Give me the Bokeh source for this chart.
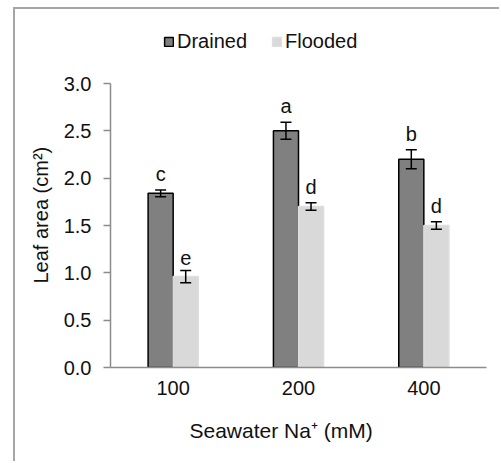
from bokeh.plotting import figure
from bokeh.models import (ColumnDataSource, Whisker, TeeHead, Legend, LegendItem, FactorRange,
                          NumeralTickFormatter, Range1d, Title)
from bokeh.transform import dodge
from bokeh.core.properties import value
from bokeh.embed import file_html
from bokeh.resources import INLINE

categories = ["100", "200", "400"]
drained = [1.84, 2.50, 2.20]
drained_err = [0.035, 0.09, 0.10]
drained_letters = ["c", "a", "b"]
flooded = [0.96, 1.70, 1.50]
flooded_err = [0.065, 0.04, 0.04]
flooded_letters = ["e", "d", "d"]
y_ticks = [0.0, 0.5, 1.0, 1.5, 2.0, 2.5, 3.0]
y_max = 3.0
y_title = "Leaf area (cm²)"
x_title = "Seawater Na⁺ (mM)"

FONT = "Liberation Sans"
FS = "20px"
AXIS_COLOR = "#8c8c8c"

W, H = 486, 454
TOP, BOTTOM, LEFT, RIGHT = 11, 96, 95, 15
AXIS_PX = 284  # pixel height of the 0..3 axis

src_d = ColumnDataSource(dict(
    cat=categories, val=drained,
    lo=[v - e for v, e in zip(drained, drained_err)],
    hi=[v + e for v, e in zip(drained, drained_err)],
    lab=drained_letters))
src_f = ColumnDataSource(dict(
    cat=categories, val=flooded,
    lo=[v - e for v, e in zip(flooded, flooded_err)],
    hi=[v + e for v, e in zip(flooded, flooded_err)],
    lab=flooded_letters))

frame_h = H - TOP - BOTTOM
p = figure(width=W, height=H, x_range=FactorRange(*categories, range_padding=0),
           y_range=Range1d(0, y_max * frame_h / AXIS_PX), output_backend="svg", toolbar_location=None,
           min_border_left=LEFT, min_border_right=RIGHT, min_border_top=TOP, min_border_bottom=BOTTOM)
p.styles = {"margin-left": "13px", "margin-top": "7px",
            "border-left": "2px solid #a6a6a6", "border-top": "2px solid #a6a6a6"}

p.outline_line_color = None
p.xgrid.grid_line_color = None
p.ygrid.grid_line_color = None
p.background_fill_color = "white"
p.border_fill_color = "white"

r_d = p.vbar(x=dodge("cat", -0.1, range=p.x_range), top="val", width=0.2, source=src_d,
             fill_color="#808080", line_color="black", line_width=1.5)
r_f = p.vbar(x=dodge("cat", 0.1, range=p.x_range), top="val", width=0.2, source=src_f,
             fill_color="#d9d9d9", line_color="#dedede", line_width=1.5)

for src, off in ((src_d, -0.1), (src_f, 0.1)):
    w = Whisker(base=dodge("cat", off, range=p.x_range), upper="hi", lower="lo", source=src,
                dimension="height", line_color="black", line_width=1.5, level="annotation",
                upper_head=TeeHead(size=11, line_color="black", line_width=1.5),
                lower_head=TeeHead(size=11, line_color="black", line_width=1.5))
    p.add_layout(w)
    p.text(x=dodge("cat", off, range=p.x_range), y="hi", text="lab", source=src,
           text_align="center", text_baseline="bottom", y_offset=-5,
           text_font=value(FONT), text_font_size=value(FS), text_color="#111111")

legend = Legend(items=[LegendItem(label="Drained", renderers=[r_d]),
                       LegendItem(label="Flooded", renderers=[r_f])],
                orientation="horizontal", location=(53, 314),
                glyph_width=11, glyph_height=11, label_standoff=3, spacing=24,
                padding=0, margin=0, border_line_color=None, background_fill_alpha=0,
                label_text_font=FONT, label_text_font_size=FS, label_text_color="#111111")
p.add_layout(legend, "center")

p.yaxis.ticker = y_ticks
p.yaxis.bounds = (0, y_max)
p.yaxis.formatter = NumeralTickFormatter(format="0.0")

for ax in (p.xaxis[0], p.yaxis[0]):
    ax.axis_line_color = AXIS_COLOR
    ax.axis_line_width = 1.5
    ax.major_tick_line_color = AXIS_COLOR
    ax.major_tick_line_width = 1.5
    ax.minor_tick_line_color = None
    ax.major_label_text_font = FONT
    ax.major_label_text_font_size = FS
    ax.major_label_text_color = "#111111"

p.yaxis.major_tick_in = 0
p.yaxis.major_tick_out = 7
p.yaxis.major_label_standoff = 12

p.xaxis.major_tick_in = 0
p.xaxis.major_tick_out = 0
p.xaxis.major_label_standoff = 13

p.add_layout(Title(text=y_title, align="left", offset=84, standoff=17,
                   text_font=FONT, text_font_size=FS, text_font_style="normal",
                   text_color="#111111"), "left")
p.add_layout(Title(text=x_title, align="left", offset=79, standoff=38,
                   text_font=FONT, text_font_size="21px", text_font_style="normal",
                   text_color="#111111"), "below")

open("out.html", "w").write(file_html(p, INLINE))
